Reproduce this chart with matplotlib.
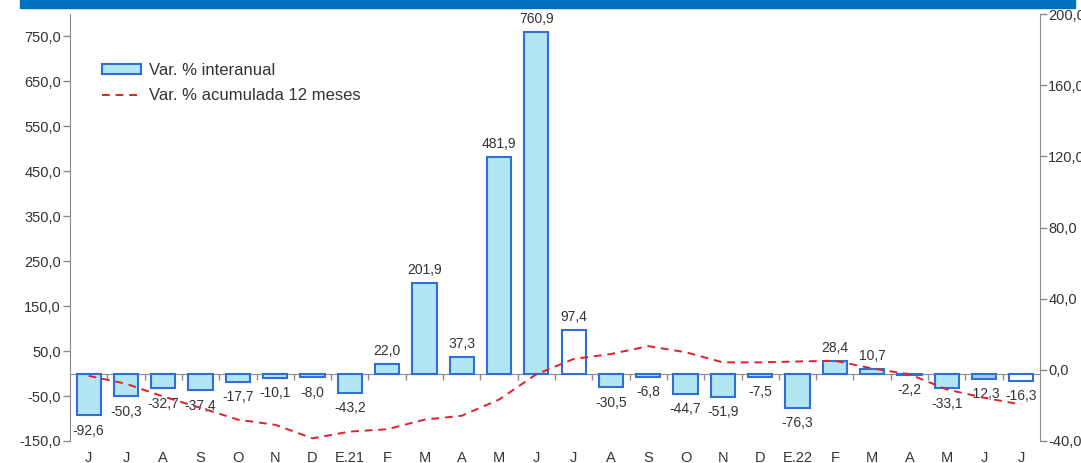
import numpy as np
import matplotlib.pyplot as plt
from matplotlib.patches import Rectangle

plt.rcParams['font.family'] = ['Liberation Sans', 'DejaVu Sans']

# months from June 2020 to July 2022
months = ['J', 'J', 'A', 'S', 'O', 'N', 'D', 'E.21', 'F', 'M', 'A', 'M', 'J',
          'J', 'A', 'S', 'O', 'N', 'D', 'E.22', 'F', 'M', 'A', 'M', 'J', 'J']
interanual = [-92.6, -50.3, -32.7, -37.4, -17.7, -10.1, -8.0, -43.2, 22.0, 201.9,
              37.3, 481.9, 760.9, 97.4, -30.5, -6.8, -44.7, -51.9, -7.5, -76.3,
              28.4, 10.7, -2.2, -33.1, -12.3, -16.3]
acumulada = [-3.4, -7.8, -15.0, -21.4, -28.0, -30.9, -38.5, -34.7, -33.4, -28.0,
             -25.8, -16.7, -2.5, 6.1, 8.9, 13.3, 9.9, 4.2, 4.2, 4.7,
             5.1, 0.8, -2.5, -11.0, -15.7, -19.5]

fill = '#b3e6f3'
edge = '#2f6fd6'
bar_fill = [fill] * len(months)
bar_fill[13] = 'white'
bar_fill[24] = '#a9c8ee'
bar_fill[25] = 'white'

def fmt(v):
    return f'{v:.1f}'.replace('.', ',')

fig = plt.figure(figsize=(10.81, 4.63), dpi=100)
ax = fig.add_axes([70 / 1081, 22 / 463, 970 / 1081, 427 / 463])
ax2 = ax.twinx()

x = np.arange(len(months))
ax.bar(x, interanual, width=0.65, color=bar_fill, edgecolor=edge, linewidth=1.5,
       label='Var. % interanual', zorder=2)
ax2.plot(x, acumulada, color='#e0202a', linestyle=(0, (4, 3)), linewidth=1.4,
         label='Var. % acumulada 12 meses', zorder=3)

for xi, v in zip(x, interanual):
    if v >= 0:
        ax.annotate(fmt(v), (xi, v), xytext=(0, 4), textcoords='offset points',
                    ha='center', va='bottom', fontsize=10, color='#333333')
    else:
        ax.annotate(fmt(v), (xi, v), xytext=(0, -6), textcoords='offset points',
                    ha='center', va='top', fontsize=10, color='#333333')

ax.set_xlim(-0.5, len(months) - 0.5)
ax.set_ylim(-150, 800)
ax2.set_ylim(-40, 200)
ax.set_yticks(np.arange(-150, 800, 100))
ax2.set_yticks(np.arange(-40, 201, 40))
ax.set_yticklabels([fmt(t) for t in ax.get_yticks()])
ax2.set_yticklabels([fmt(t) for t in ax2.get_yticks()])

grey = '#8c8c8c'
ax.tick_params(axis='y', colors=grey, labelcolor='#333333', labelsize=10.5,
               length=5, width=1, pad=1.5)
ax2.tick_params(axis='y', colors=grey, labelcolor='#333333', labelsize=10.5,
                length=5, width=1, pad=1)
for a in (ax, ax2):
    a.spines['top'].set_visible(False)
ax.spines['right'].set_visible(False)
ax2.spines['left'].set_visible(False)
ax2.spines['bottom'].set_visible(False)
ax.spines['left'].set_color(grey)
ax2.spines['right'].set_color(grey)
ax.spines['bottom'].set_position(('data', 0))
ax.spines['bottom'].set_color(grey)
ax.spines['bottom'].set_zorder(1)
ax.set_xticks(x[:-1] + 0.5)
ax.set_xticklabels([])
ax.tick_params(axis='x', colors=grey, length=4, width=1, direction='out')

for xi, m in zip(x, months):
    ax.annotate(m, (xi, 0), xycoords=ax.get_xaxis_transform(), xytext=(0, -12),
                textcoords='offset points', ha='center', va='center',
                fontsize=10.5, color='#333333')

h1, l1 = ax.get_legend_handles_labels()
h2, l2 = ax2.get_legend_handles_labels()
ax2.legend(h1 + h2, l1 + l2, loc='upper left', bbox_to_anchor=(0.018, 0.92),
           frameon=False, fontsize=12, handlelength=2.3, handleheight=0.5,
           labelspacing=0.6, handletextpad=0.5, labelcolor='#333333')

fig.add_artist(Rectangle((20 / 1081, 1 - 8 / 463), 1055 / 1081, 8 / 463,
                         transform=fig.transFigure, color='#0070c0'))

fig.savefig('out.png', dpi=100)
